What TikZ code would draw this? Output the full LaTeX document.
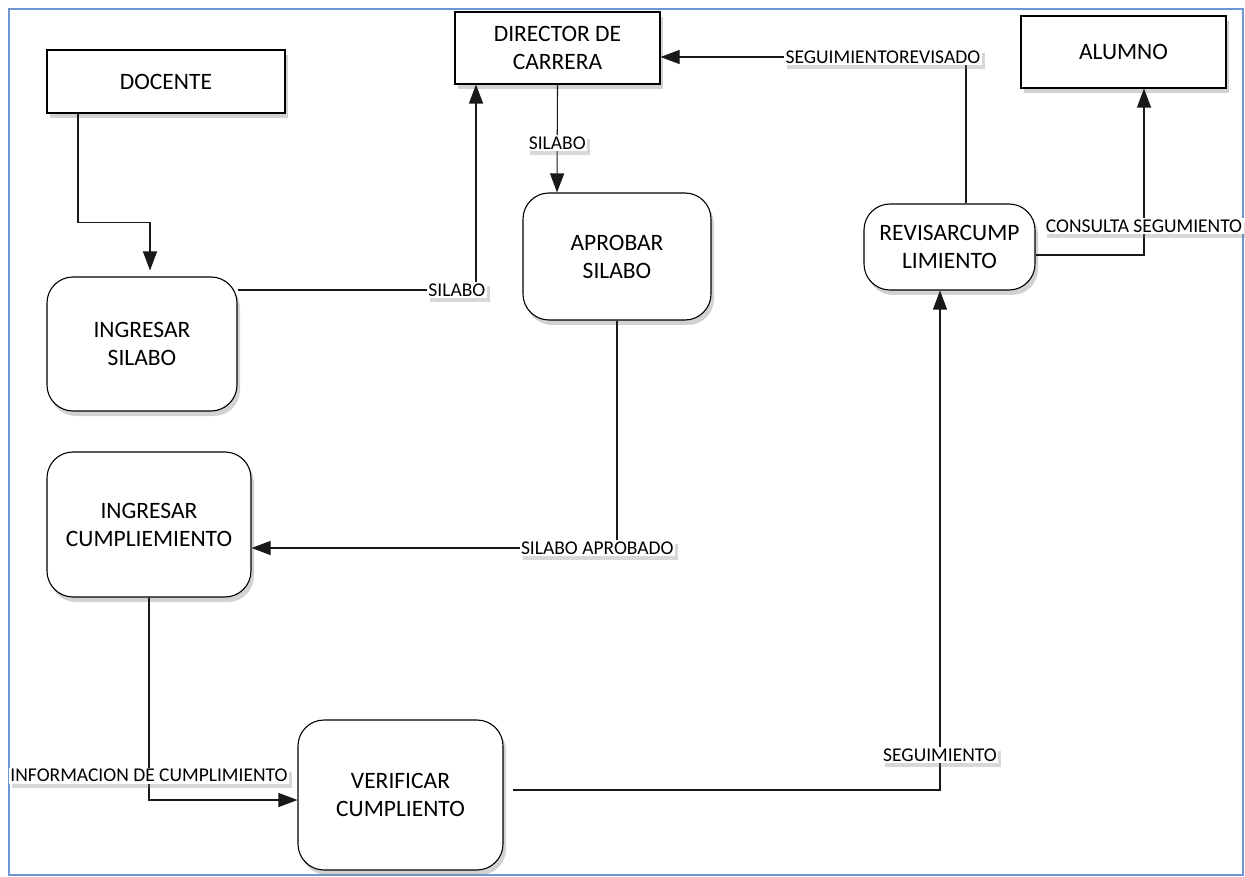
\documentclass[tikz,border=0pt]{standalone}
\usepackage{fontspec}
\setmainfont{Carlito}
\usetikzlibrary{arrows.meta,shadows}
\definecolor{framebl}{RGB}{110,150,210}
\definecolor{lineg}{RGB}{25,25,25}
\tikzset{
  boxshadow/.style={drop shadow={shadow xshift=3pt,shadow yshift=-5pt,opacity=0.35,fill=gray}},
  entity/.style={draw=black,fill=white,line width=1.1pt,boxshadow,align=center,
    font=\fontsize{23.5}{28}\selectfont,inner sep=0pt},
  process/.style={entity,rounded corners=26pt},
  flow/.style={draw=lineg,line width=1.1pt,-{Triangle[length=19pt,width=14pt]}},
  lab/.style={fill=white,inner sep=1.5pt,font=\fontsize{19.5}{22}\selectfont,
    drop shadow={shadow xshift=3pt,shadow yshift=-4pt,opacity=0.3,fill=gray}}
}
\begin{document}
\begin{tikzpicture}[x=1pt,y=-1pt]
  \useasboundingbox (0,0) rectangle (1245,877);
  \fill[white] (0,0) rectangle (1245,877);
  \draw[framebl,line width=2pt] (9,9) rectangle (1243,875);

  % external entities
  \node[entity,minimum width=238pt,minimum height=63pt] (docente) at (166,81.5) {DOCENTE};
  \node[entity,minimum width=205pt,minimum height=72pt] (director) at (557.5,48) {DIRECTOR DE\\CARRERA};
  \node[entity,minimum width=205pt,minimum height=72pt] (alumno) at (1123.5,52) {ALUMNO};

  % processes
  \node[process,minimum width=190pt,minimum height=134pt] (ingsil) at (142,344) {INGRESAR\\SILABO};
  \node[process,minimum width=188pt,minimum height=127pt] (aprobar) at (617,256.5) {APROBAR\\SILABO};
  \node[process,minimum width=171pt,minimum height=86pt] (revisar) at (949.5,247) {REVISARCUMP\\LIMIENTO};
  \node[process,minimum width=204pt,minimum height=145pt] (ingcum) at (149,524.5) {INGRESAR\\CUMPLIEMIENTO};
  \node[process,minimum width=205pt,minimum height=150pt] (verif) at (400.5,795) {VERIFICAR\\CUMPLIENTO};

  % data flows
  \draw[flow] ([xshift=-88pt]docente.south) -- ++(0,109) -| ([xshift=8pt,yshift=6pt]ingsil.north);
  \draw[flow] ([yshift=54pt]ingsil.east) -| ([xshift=-81.5pt]director.south)
    node[lab,pos=0.46] {SILABO};
  \draw[flow] (director.south) -- ([xshift=-60pt]aprobar.north)
    node[lab,pos=0.54] {SILABO};
  \draw[flow] (aprobar.south) |- ([yshift=-23.5pt]ingcum.east)
    node[lab,pos=0.527] {SILABO APROBADO};
  \draw[flow] (ingcum.south) |- ([yshift=-5pt]verif.west)
    node[lab,pos=0.44] {INFORMACION DE CUMPLIMIENTO};
  \draw[flow] ([xshift=9pt,yshift=5pt]verif.east) -| ([xshift=-9.5pt]revisar.south)
    node[lab,pos=0.535] {SEGUIMIENTO};
  \draw[flow] ([xshift=16.5pt]revisar.north) |- ([yshift=-9pt]director.east)
    node[lab,pos=0.636] {SEGUIMIENTOREVISADO};
  \draw[flow] ([yshift=-8pt]revisar.east) -| ([xshift=20.5pt]alumno.south)
    node[lab,pos=0.587] {CONSULTA SEGUMIENTO};
\end{tikzpicture}
\end{document}
